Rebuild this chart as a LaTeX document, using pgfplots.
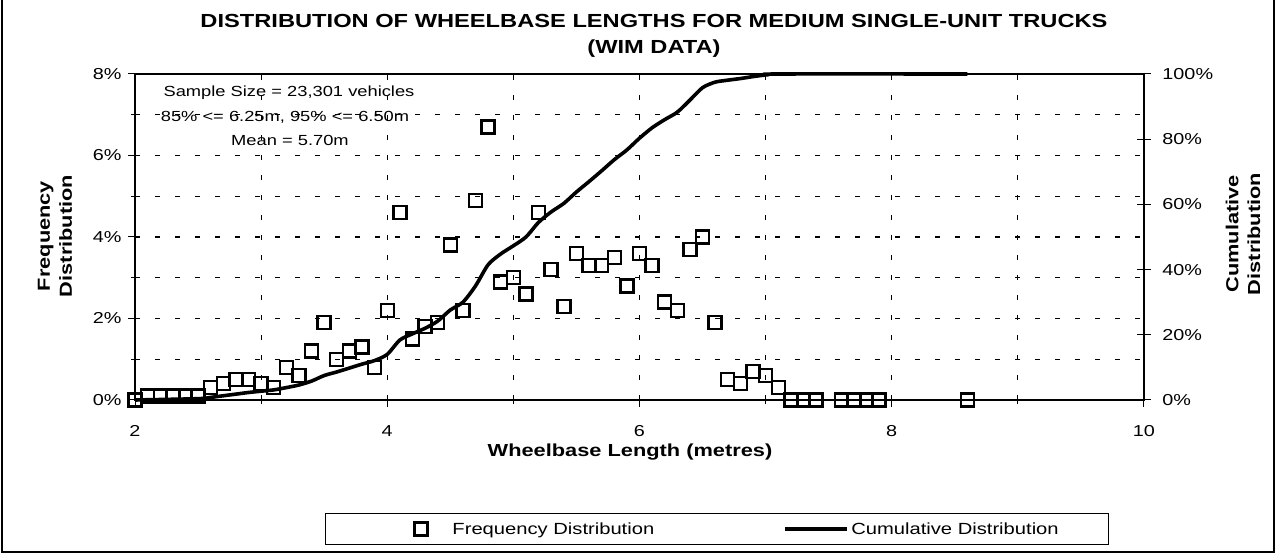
\documentclass[border=0pt]{standalone}
\usepackage{fontspec}
\setmainfont{Liberation Sans}[FakeStretch=1.25]
\usepackage{pgfplots}
\pgfplotsset{compat=1.18}

\pgfplotstableread{
x f
2.0 0
2.1 0.1
2.2 0.1
2.3 0.1
2.4 0.1
2.5 0.1
2.6 0.3
2.7 0.4
2.8 0.5
2.9 0.5
3.0 0.4
3.1 0.3
3.2 0.8
3.3 0.6
3.4 1.2
3.5 1.9
3.6 1.0
3.7 1.2
3.8 1.3
3.9 0.8
4.0 2.2
4.1 4.6
4.2 1.5
4.3 1.8
4.4 1.9
4.5 3.8
4.6 2.2
4.7 4.9
4.8 6.7
4.9 2.9
5.0 3.0
5.1 2.6
5.2 4.6
5.3 3.2
5.4 2.3
5.5 3.6
5.6 3.3
5.7 3.3
5.8 3.5
5.9 2.8
6.0 3.6
6.1 3.3
6.2 2.4
6.3 2.2
6.4 3.7
6.5 4.0
6.6 1.9
6.7 0.5
6.8 0.4
6.9 0.7
7.0 0.6
7.1 0.3
7.2 0
7.3 0
7.4 0
7.6 0
7.7 0
7.8 0
7.9 0
8.6 0
}\freqdata

\pgfplotstableread{
x c
2.0 0
2.5 0.4
2.6 0.8
2.7 1.3
2.8 1.8
2.9 2.3
3.0 2.7
3.1 3.1
3.2 3.8
3.3 4.6
3.4 5.8
3.5 7.5
3.6 8.6
3.7 9.8
3.8 11.0
3.9 12.1
4.0 14.0
4.1 18.4
4.2 20.3
4.3 22.0
4.4 24.2
4.5 27.6
4.6 30.0
4.7 35.0
4.8 41.5
4.9 44.8
5.0 47.3
5.1 50.0
5.2 54.5
5.3 57.7
5.4 60.3
5.5 63.8
5.6 67.0
5.7 70.3
5.8 73.7
5.9 76.7
6.0 80.3
6.1 83.5
6.2 86.0
6.3 88.3
6.4 92.0
6.5 95.8
6.6 97.5
6.7 98.1
6.8 98.6
6.9 99.2
7.0 99.7
7.1 100
8.6 100
}\cumdata

\begin{document}
\begin{tikzpicture}[x=1bp,y=1bp]
\useasboundingbox (0,0) rectangle (1277,557);
\draw[line width=1.5bp] (2,560) -- (2,5) -- (1274,5) -- (1274,560);

% title
\node[anchor=base, font=\bfseries\fontsize{19}{22}\selectfont] at (654,529)
  {DISTRIBUTION OF WHEELBASE LENGTHS FOR MEDIUM SINGLE-UNIT TRUCKS};
\node[anchor=base, font=\bfseries\fontsize{19}{22}\selectfont] at (654,503) {(WIM DATA)};

\begin{axis}[
  at={(135bp,157bp)}, anchor=south west, scale only axis,
  width=1009bp, height=326bp,
  xmin=2, xmax=10, ymin=0, ymax=8,
  clip=false,
  xtick={2,4,6,8,10}, xticklabels={2,4,6,8,10},
  minor xtick={3,5,7,9},
  ytick={0,2,4,6,8}, yticklabels={0\%,2\%,4\%,6\%,8\%},
  minor ytick={1,3,5,7},
  xtick pos=bottom, ytick pos=left,
  tick align=outside,
  major tick length=7bp, minor tick length=4bp,
  tick style={black, line width=1bp},
  grid=both,
  major grid style={black, line width=1.2bp, dash pattern=on 5bp off 15bp},
  minor grid style={black, line width=1.2bp, dash pattern=on 5bp off 15bp},
  axis line style={black, line width=1.5bp},
  tick label style={font=\fontsize{15.9}{18}\selectfont},
  xticklabel style={yshift=-15bp},
  yticklabel style={xshift=-3bp},
]
\addplot[only marks, mark=square, mark size=6.5bp,
         mark options={black, line width=2.4bp, fill=white}] table[x=x, y=f] {\freqdata};
\end{axis}

\begin{axis}[
  at={(135bp,157bp)}, anchor=south west, scale only axis,
  width=1009bp, height=326bp,
  xmin=2, xmax=10, ymin=0, ymax=100,
  clip=false,
  axis x line=none, axis y line*=right,
  ytick={0,20,40,60,80,100}, yticklabels={0\%,20\%,40\%,60\%,80\%,100\%},
  tick align=center, major tick length=14bp,
  tick style={black, line width=1bp},
  axis line style={black, line width=1.5bp},
  tick label style={font=\fontsize{15.9}{18}\selectfont},
  yticklabel style={xshift=8bp},
  legend columns=2,
  legend style={at={(axis description cs:0.1883,-0.3957)}, anchor=west,
    draw=black, line width=1bp, inner ysep=7bp, inner xsep=0bp,
    font=\fontsize{16.2}{18}\selectfont,
    /tikz/every even column/.append style={column sep=127bp}},
]
\addlegendimage{legend image code/.code={
    \path[draw=none] (0bp,0bp) -- (125bp,0bp);
    \draw[line width=2.4bp, fill=white] (89bp,-6.5bp) rectangle (102bp,6.5bp);}}
\addlegendentry{Frequency Distribution}
\addplot[black, line width=3.6bp, smooth, tension=0.45,
  legend image code/.code={\draw[line width=4bp] (0bp,0bp) -- (62bp,0bp);}]
  table[x=x, y=c] {\cumdata};
\addlegendentry{Cumulative Distribution\hspace*{48bp}}
\end{axis}

% annotation
\begin{scope}[font=\fontsize{14.7}{17}\selectfont]
\node[anchor=base] at (289,460) {Sample Size = 23,301 vehicles};
\node[anchor=base] at (285,435) {85\% <= 6.25m, 95\% <= 6.50m};
\node[anchor=base] at (290,411) {Mean = 5.70m};
\end{scope}

% axis titles
\node[anchor=base, font=\bfseries\fontsize{17.5}{20}\selectfont] at (630,100)
  {Wheelbase Length (metres)};
\node[rotate=90, align=center, font=\bfseries\fontsize{17.5}{22}\selectfont]
  at (55,321) {Frequency\\Distribution};
\node[rotate=90, align=center, font=\bfseries\fontsize{17.5}{22}\selectfont]
  at (1243,323) {Cumulative\\Distribution};
\end{tikzpicture}
\end{document}
